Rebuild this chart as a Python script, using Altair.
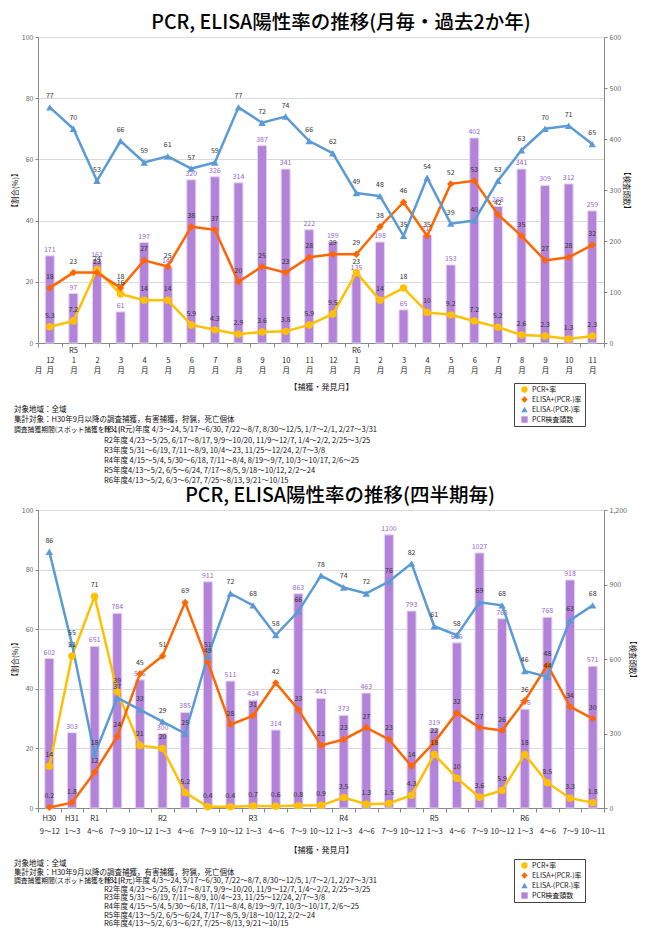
import altair as alt
import pandas as pd

FONT = "Noto Sans CJK JP"

# ---------------- monthly (top) ----------------
top_eras = ["", "R5", "", "", "", "", "", "", "", "", "", "",
            "", "R6", "", "", "", "", "", "", "", "", "", ""]
top_months = ["12", "1", "2", "3", "4", "5", "6", "7", "8", "9", "10", "11",
              "12", "1", "2", "3", "4", "5", "6", "7", "8", "9", "10", "11"]
top_pcr = [5.3, 7.2, 24, 16, 14, 14, 5.9, 4.3, 2.9, 3.6, 3.8, 5.9,
           9.5, 23, 14, 18, 10, 9.2, 7.2, 5.2, 2.6, 2.3, 1.3, 2.3]
top_elisa_pos = [18, 23, 23, 18, 27, 25, 38, 37, 20, 25, 23, 28,
                 29, 29, 38, 46, 35, 52, 53, 42, 35, 27, 28, 32]
top_elisa_neg = [77, 70, 53, 66, 59, 61, 57, 59, 77, 72, 74, 66,
                 62, 49, 48, 35, 54, 39, 40, 53, 63, 70, 71, 65]
top_counts = [171, 97, 161, 61, 197, 149, 320, 326, 314, 387, 341, 222,
              199, 135, 198, 65, 212, 153, 402, 268, 341, 309, 312, 259]

# ---------------- quarterly (bottom) ----------------
bot_eras = ["H30", "H31", "R1", "", "", "R2", "", "", "", "R3", "", "", "", "R4", "", "", "",
            "R5", "", "", "", "R6", "", "", ""]
bot_periods = ["9～12", "1～3", "4～6", "7～9", "10～12", "1～3", "4～6", "7～9", "10～12",
               "1～3", "4～6", "7～9", "10～12", "1～3", "4～6", "7～9", "10～12",
               "1～3", "4～6", "7～9", "10～12", "1～3", "4～6", "7～9", "10～11"]
bot_pcr = [14, 51, 71, 39, 21, 20, 5.2, 0.4, 0.4, 0.7, 0.6, 0.8, 0.9,
           3.5, 1.3, 1.5, 4.3, 18, 10, 3.6, 5.9, 18, 8.5, 3.3, 1.8]
bot_elisa_pos = [0.2, 1.8, 12, 24, 45, 51, 69, 49, 28, 31, 42, 33, 21,
                 23, 27, 23, 14, 22, 32, 27, 26, 36, 48, 34, 30]
bot_elisa_neg = [86, 55, 18, 37, 33, 29, 25, 51, 72, 68, 58, 66, 78,
                 74, 72, 76, 82, 61, 58, 69, 68, 46, 44, 63, 68]
bot_counts = [602, 303, 651, 784, 516, 300, 385, 911, 511, 434, 314, 863, 441,
              373, 463, 1100, 793, 319, 665, 1027, 762, 398, 768, 918, 571]

series_names = ["PCR+率", "ELISA+(PCR-)率", "ELISA-(PCR-)率", "PCR検査頭数"]
series_colors = ["#FFC000", "#FF6600", "#5B9BD5", "#B383D9"]
series_shapes = ["circle", "diamond", "triangle-up", "square"]

note_head = ["対象地域：全域", "集計対象：H30年9月以降の調査捕獲，有害捕獲，狩猟，死亡個体"]
note_prefix = "調査捕獲期間(スポット捕獲を除く)："
note_periods = [
    "H31(R元)年度 4/3～24, 5/17～6/30, 7/22～8/7, 8/30～12/5, 1/7～2/1, 2/27～3/31",
    "R2年度 4/23～5/25, 6/17～8/17, 9/9～10/20, 11/9～12/7, 1/4～2/2, 2/25～3/25",
    "R3年度 5/31～6/19, 7/11～8/9, 10/4～23, 11/25～12/24, 2/7～3/8",
    "R4年度 4/15～5/4, 5/30～6/18, 7/11～8/4, 8/19～9/7, 10/3～10/17, 2/6～25",
    "R5年度4/13～5/2, 6/5～6/24, 7/17～8/5, 9/18～10/12, 2/2～24",
    "R6年度4/13～5/2, 6/3～6/27, 7/25～8/13, 9/21～10/15",
]

W = 566


def panel(eras, labels, pcr, pos, neg, counts, cmax, cstep, height, title,
          label_expr, label_pad, era_dy, xtitle_pad, legend_y, notes_y, line_h, title_dx):
    n = len(labels)
    keys = [f"{i}:{l}" for i, l in enumerate(labels)]
    bars_df = pd.DataFrame({"cat": keys, "count": counts})
    era_df = pd.DataFrame({"cat": keys, "era": eras})
    long_df = pd.DataFrame({
        "cat": keys * 3,
        "series": [series_names[0]] * n + [series_names[1]] * n + [series_names[2]] * n,
        "value": pcr + pos + neg,
    })

    x = alt.X("cat:N", sort=keys,
              scale=alt.Scale(paddingInner=0, paddingOuter=0),
              axis=alt.Axis(title="【捕獲・発見月】", labelExpr=label_expr, labelAngle=0,
                            tickBand="extent", tickSize=4, tickColor="#888888",
                            domainColor="#888888", labelFont=FONT, labelFontSize=7.5,
                            labelColor="#222222", labelLineHeight=10.5, labelPadding=label_pad,
                            labelBaseline="top",
                            titleFont=FONT, titleFontSize=8, titleFontWeight="normal",
                            titleColor="#111111", titlePadding=xtitle_pad, grid=False))

    y_cnt = alt.Y("count:Q", scale=alt.Scale(domain=[0, cmax], nice=False),
                  axis=alt.Axis(orient="right", values=list(range(0, cmax + 1, cstep)),
                                grid=False, title="【検査頭数】", tickSize=3,
                                tickColor="#888888", domainColor="#888888",
                                labelFont=FONT, labelFontSize=7, labelColor="#666666",
                                labelPadding=2, titleFont=FONT, titleFontSize=7.5,
                                titleFontWeight="normal", titleColor="#111111",
                                titlePadding=1))
    y_val = alt.Y("value:Q", scale=alt.Scale(domain=[0, 100], nice=False),
                  axis=alt.Axis(orient="left", values=[0, 20, 40, 60, 80, 100],
                                grid=True, gridColor="#d9d9d9", title="【割合(%)】",
                                tickSize=3, tickColor="#888888", domainColor="#888888",
                                labelFont=FONT, labelFontSize=7, labelColor="#666666",
                                labelPadding=2, titleFont=FONT, titleFontSize=7.5,
                                titleFontWeight="normal", titleColor="#111111",
                                titlePadding=2))

    leg = alt.Legend(title=None, orient="none", legendX=W - 90, legendY=legend_y,
                     strokeColor="#444444", fillColor="white", padding=3,
                     labelFont=FONT, labelFontSize=7, labelColor="#111111",
                     symbolSize=40, rowPadding=2, symbolStrokeWidth=0,
                     labelLimit=200, symbolOffset=4, labelOffset=4)

    base_b = alt.Chart(bars_df)
    bars = base_b.mark_bar(size=9, color="#B383D9", stroke="#E6D3F3", strokeWidth=1).encode(x=x, y=y_cnt)
    bar_lbl = base_b.mark_text(dy=-6, font=FONT, fontSize=7, color="#9966CC").encode(
        x=x, y=y_cnt, text=alt.Text("count:Q", format="d"))
    era_lbl = alt.Chart(era_df).mark_text(baseline="middle", font=FONT, fontSize=7.5,
                                          color="#222222").encode(
        x=x, y=alt.value(height + era_dy), text="era:N")
    bar_layer = alt.layer(bars, bar_lbl, era_lbl)

    base_l = alt.Chart(long_df)
    line_layers = [
        base_l.transform_filter(alt.datum.series == s).mark_line(strokeWidth=2.5, color=c).encode(x=x, y=y_val)
        for s, c in zip(series_names[:3], series_colors[:3])
    ]
    pts = base_l.mark_point(filled=True, size=55, opacity=1).encode(
        x=x, y=y_val,
        color=alt.Color("series:N", scale=alt.Scale(domain=series_names, range=series_colors), legend=leg),
        shape=alt.Shape("series:N", scale=alt.Scale(domain=series_names, range=series_shapes), legend=leg))
    pt_lbl = base_l.mark_text(dy=-11, font=FONT, fontSize=7, color="#333333").encode(
        x=x, y=y_val, text=alt.Text("value:Q", format=".2~r"))
    line_layer = alt.layer(*line_layers, pts, pt_lbl)

    nx = -24
    head = alt.Chart(pd.DataFrame({"t": ["\n".join(note_head)]})).mark_text(
        align="left", baseline="middle", font=FONT, fontSize=7.5, color="#111111",
        lineBreak="\n", lineHeight=line_h).encode(
        text="t:N", x=alt.value(nx), y=alt.value(notes_y))
    pre = alt.Chart(pd.DataFrame({"t": [note_prefix]})).mark_text(
        align="left", baseline="middle", font=FONT, fontSize=6.8, color="#111111").encode(
        text="t:N", x=alt.value(nx), y=alt.value(notes_y + 2 * line_h))
    per = alt.Chart(pd.DataFrame({"t": ["\n".join(note_periods)]})).mark_text(
        align="left", baseline="middle", font=FONT, fontSize=7.5, color="#111111",
        lineBreak="\n", lineHeight=line_h).encode(
        text="t:N", x=alt.value(nx + 90), y=alt.value(notes_y + 2 * line_h))

    return alt.layer(bar_layer, line_layer, head, pre, per).resolve_scale(y="independent").properties(
        width=W, height=height,
        title=alt.TitleParams(title, font=FONT, fontSize=19.5, fontWeight=500, color="#000000",
                              anchor="middle", frame="group", dx=title_dx, offset=0))


top = panel(top_eras, top_months, top_pcr, top_elisa_pos, top_elisa_neg, top_counts,
            600, 100, 306, "PCR, ELISA陽性率の推移(月毎・過去2か年)",
            "[split(datum.value, ':')[1], '月']", 9, 8, 9,
            346, 373, 10.2, 20)
bot = panel(bot_eras, bot_periods, bot_pcr, bot_elisa_pos, bot_elisa_neg, bot_counts,
            1200, 300, 298, "PCR, ELISA陽性率の推移(四半期毎)",
            "split(datum.value, ':')[1]", 15, 11, 12,
            349, 354, 8.6, 19)

chart = alt.vconcat(top, bot, spacing=0).resolve_scale(
    x="independent", color="independent", shape="independent"
).resolve_legend(color="independent", shape="independent").properties(
    padding={"left": 3, "top": 4, "right": 2, "bottom": 0}, background="white"
).configure_view(stroke=None)

chart.save("out.html", embed_options={"renderer": "svg", "actions": False})
